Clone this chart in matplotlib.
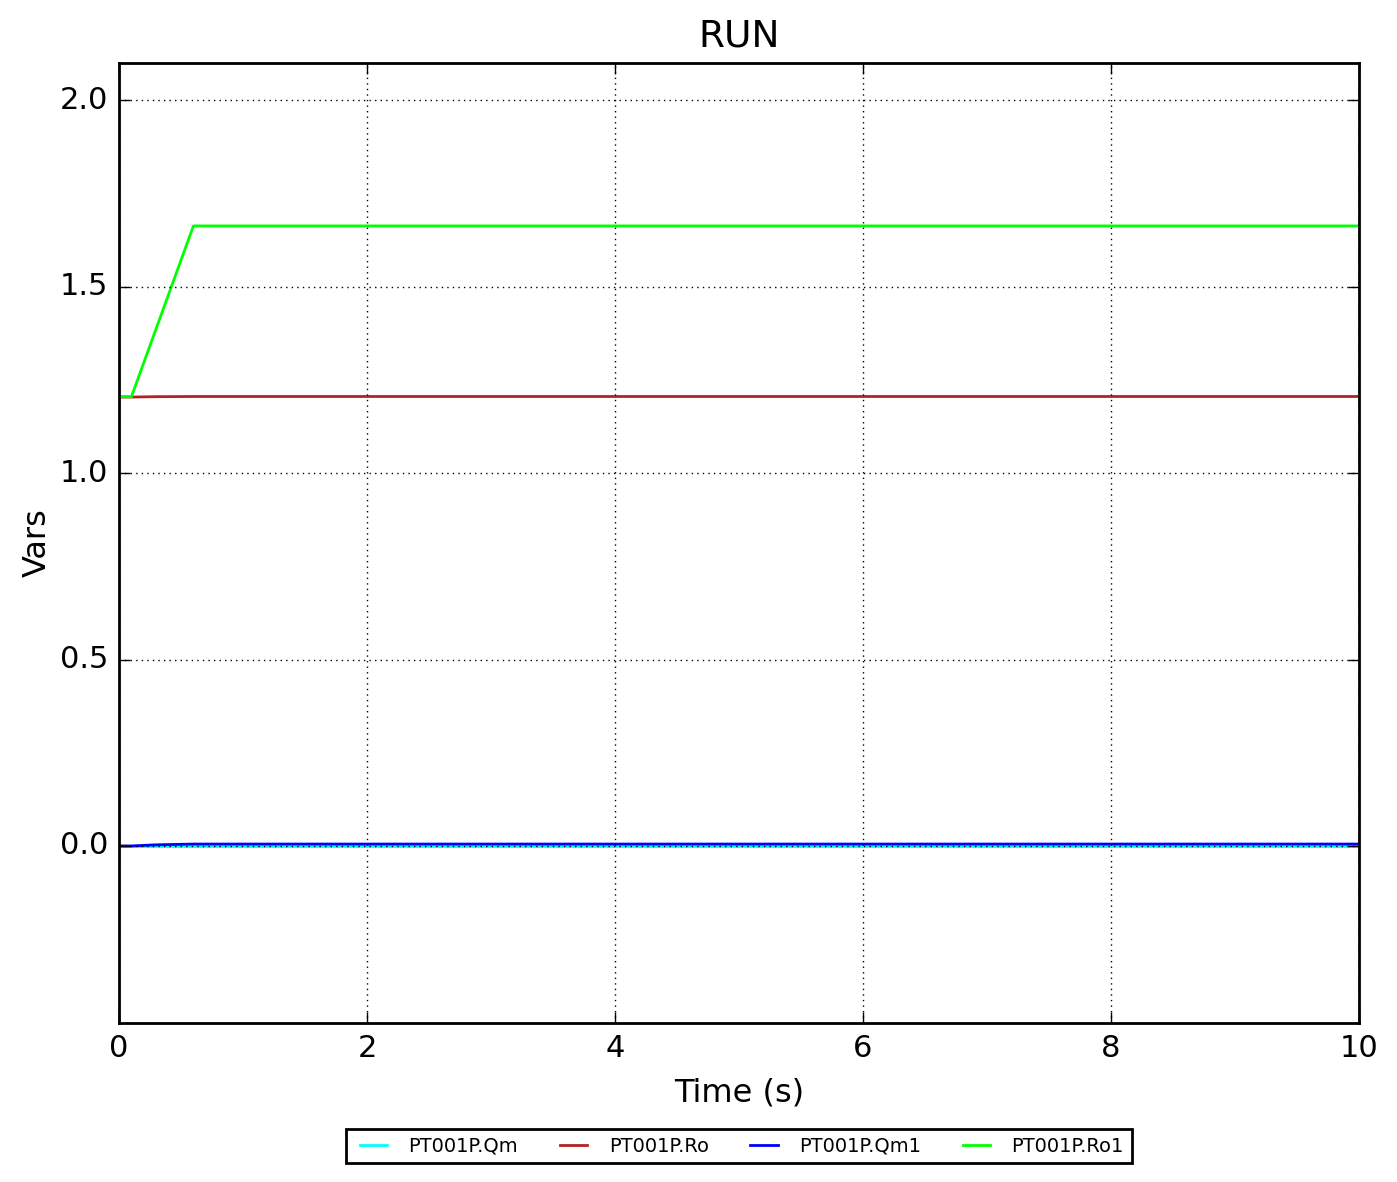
import numpy as np
import matplotlib.pyplot as plt

plt.style.use('classic')

# simulation output
t = [0.0, 0.1, 0.3, 0.6, 1.0, 2.0, 4.0, 6.0, 8.0, 10.0]
qm = [0.0, 0.0, 0.0, 0.0, 0.0, 0.0, 0.0, 0.0, 0.0, 0.0]
ro = [1.204, 1.204, 1.205, 1.2055, 1.2055, 1.2055, 1.2055, 1.2055, 1.2055, 1.2055]
qm1 = [0.0, 0.0, 0.003, 0.005, 0.005, 0.005, 0.005, 0.005, 0.005, 0.005]
ro1 = [1.205, 1.205, 1.388, 1.663, 1.663, 1.663, 1.663, 1.663, 1.663, 1.663]

fig = plt.figure(figsize=(13.97, 11.82), dpi=100, facecolor='white')
ax = fig.add_axes([0.0852, 0.1345, 0.8876, 0.8122])
ax.set_facecolor('white')

ax.plot(t, qm, color='cyan', lw=2, label='PT001P.Qm')
ax.plot(t, ro, color='#b22222', lw=2, label='PT001P.Ro')
ax.plot(t, qm1, color='blue', lw=2, label='PT001P.Qm1')
ax.plot(t, ro1, color='lime', lw=2, label='PT001P.Ro1')

ax.set_xlim(0, 10)
ax.set_ylim(-0.475, 2.1)
ax.set_yticks([0.0, 0.5, 1.0, 1.5, 2.0])
ax.set_xticks([0, 2, 4, 6, 8, 10])
ax.grid(True, color='black', linestyle=':', linewidth=1)
ax.tick_params(labelsize=22, length=8, width=1, direction='in', pad=8)
for s in ax.spines.values():
    s.set_linewidth(2)

ax.set_title('RUN', fontsize=27, pad=12)
ax.set_xlabel('Time (s)', fontsize=23, labelpad=10)
ax.set_ylabel('Vars', fontsize=23)

leg = ax.legend(loc='upper center', bbox_to_anchor=(0.5, -0.1), ncol=4,
                fontsize=14, frameon=True, fancybox=False, handlelength=2,
                columnspacing=1.85, borderpad=0.4)
leg.get_frame().set_edgecolor('black')
leg.get_frame().set_linewidth(2)

fig.savefig('out.png', dpi=100, facecolor='white')
